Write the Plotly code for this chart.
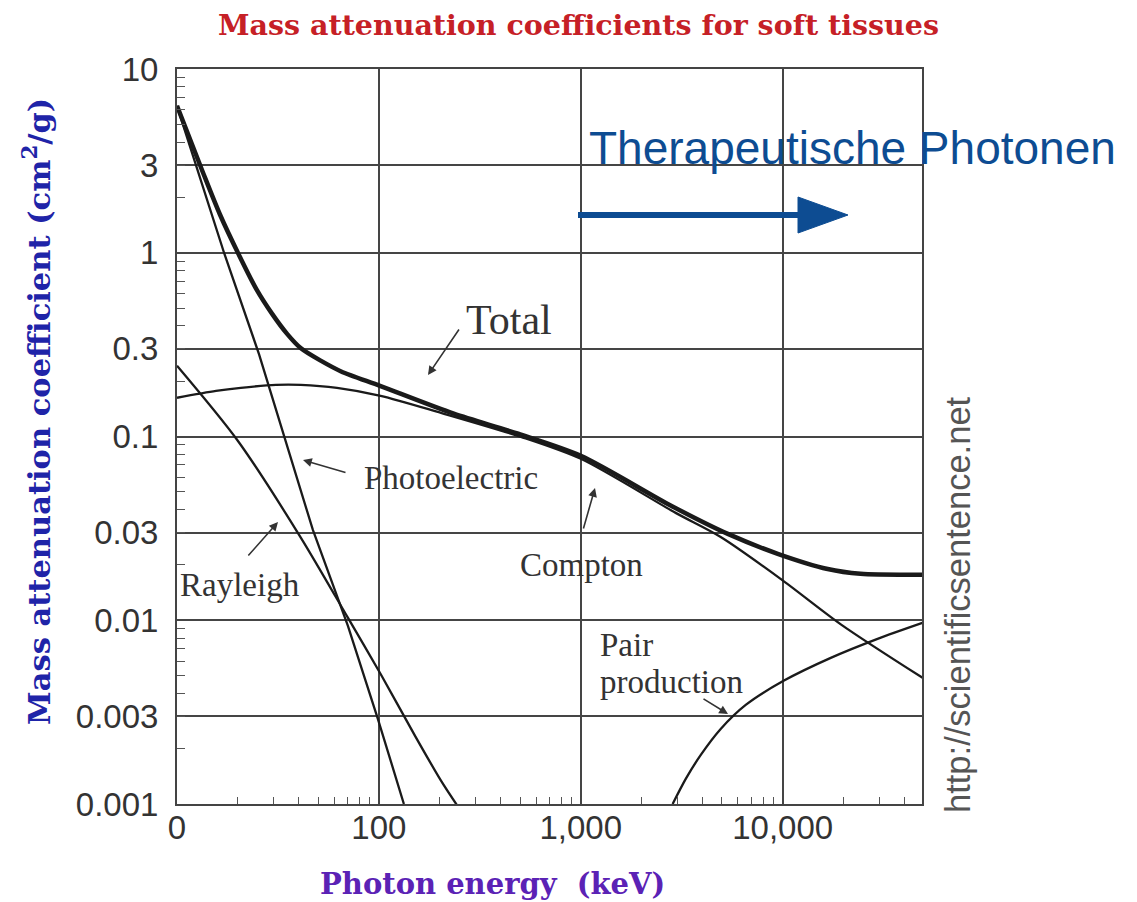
import plotly.graph_objects as go

# ---- data (energy in keV, mu/rho in cm^2/g) ----
total_E = [10, 13.4, 16.3, 20.3, 24.8, 29.6, 35.1, 41.1, 52, 65, 102, 235, 490, 1000, 2800, 5350, 9450, 16700, 24300, 49300]
total_mu = [6.3, 2.76, 1.62, 0.97, 0.63, 0.465, 0.362, 0.302, 0.257, 0.226, 0.188, 0.133, 0.1035, 0.0785, 0.042, 0.0295, 0.023, 0.019, 0.0179, 0.0177]

compton_E = [10, 15.6, 20.7, 30.9, 41, 62, 102, 203, 505, 1000, 2950, 4930, 9770, 19400, 49300]
compton_mu = [0.1625, 0.177, 0.184, 0.191, 0.191, 0.184, 0.1666, 0.1345, 0.0996, 0.0756, 0.0384, 0.0284, 0.0168, 0.0095, 0.00486]

photo_E = [10, 12.4, 17.1, 25.5, 33.9, 47.1, 70.3, 98.9, 133]
photo_mu = [6.3, 3.0, 1.0, 0.28, 0.10, 0.031, 0.0093, 0.0029, 0.001]

rayleigh_E = [10, 20.0, 41.1, 70.3, 102, 152, 203, 243]
rayleigh_mu = [0.2426, 0.0948, 0.0281, 0.0103, 0.0051, 0.00232, 0.00134, 0.00099]

pair_E = [2850, 3310, 3930, 4930, 6560, 10100, 17300, 29500, 49300]
pair_mu = [0.001, 0.00137, 0.00185, 0.00256, 0.00346, 0.00468, 0.00624, 0.00792, 0.00968]

x_tickvals = [10, 100, 1000, 10000]
x_ticktext = ["0", "100", "1,000", "10,000"]
y_tickvals = [10, 3, 1, 0.3, 0.1, 0.03, 0.01, 0.003, 0.001]
y_ticktext = ["10", "3", "1", "0.3", "0.1", "0.03", "0.01", "0.003", "0.001"]

# page body has an 8px margin: figure is drawn from screen (8, 8)
OFF = 8
W, H = 1137 - OFF, 902 - OFF
L, R, T, B = 177, 922, 69, 804  # plot area in screen pixels


def px(x):
    return (x - L) / (R - L)


def py(y):
    return (B - y) / (B - T)


fig = go.Figure()
fig.add_trace(go.Scatter(x=total_E, y=total_mu, mode="lines", line=dict(color="#1a1a1a", width=4.5, shape="spline", smoothing=0.8)))
fig.add_trace(go.Scatter(x=compton_E, y=compton_mu, mode="lines", line=dict(color="#1a1a1a", width=2.3, shape="spline", smoothing=0.8)))
fig.add_trace(go.Scatter(x=photo_E, y=photo_mu, mode="lines", line=dict(color="#1a1a1a", width=2.3)))
fig.add_trace(go.Scatter(x=rayleigh_E, y=rayleigh_mu, mode="lines", line=dict(color="#1a1a1a", width=2.3, shape="spline", smoothing=0.8)))
fig.add_trace(go.Scatter(x=pair_E, y=pair_mu, mode="lines", line=dict(color="#1a1a1a", width=2.3, shape="spline", smoothing=0.8)))

minor_vals = [m * 10 ** k for k in range(-3, 5) for m in range(2, 10)]

axis_common = dict(
    showline=True, linecolor="#444", linewidth=2, mirror=True,
    showgrid=True, gridcolor="#454545", gridwidth=1.9,
    ticks="", zeroline=False,
    tickfont=dict(family="Liberation Sans, Arial", size=33, color="#333"),
)

fig.update_xaxes(type="log", range=[1, 4.69], tickmode="array", tickvals=x_tickvals, ticktext=x_ticktext,
                 ticklabelstandoff=-7,
                 minor=dict(tickmode="array", tickvals=minor_vals, ticks="inside", ticklen=7, tickwidth=1.3,
                            tickcolor="#555", showgrid=False),
                 **axis_common)
fig.update_yaxes(type="log", range=[-3, 1], tickmode="array", tickvals=y_tickvals, ticktext=y_ticktext,
                 ticklabelstandoff=10,
                 minor=dict(tickmode="array", tickvals=minor_vals, ticks="inside", ticklen=8, tickwidth=1.3,
                            tickcolor="#555", showgrid=False),
                 **axis_common)

serif_bold = "DejaVu Serif"
label_font = dict(family="Liberation Serif, Times New Roman", size=33, color="#333")

annotations = [
    dict(text="<b>Mass attenuation coefficients for soft tissues</b>", x=px(578), y=py(25),
         font=dict(family=serif_bold, size=28.5, color="#c62026")),
    dict(text="<b>Mass attenuation coefficient (cm<sup>2</sup>/g)</b>", x=px(37), y=py(412), textangle=-90,
         font=dict(family=serif_bold, size=30.5, color="#1f24a8")),
    dict(text="<b>Photon energy  (keV)</b>", x=px(492), y=py(884),
         font=dict(family=serif_bold, size=29, color="#5b22b5")),
    dict(text="Therapeutische Photonen", x=px(587), y=py(148), xanchor="left",
         font=dict(family="Liberation Sans, Arial", size=46, color="#0d4c92")),
    dict(text="http://scientificsentence.net", x=px(958), y=py(605), textangle=-90,
         font=dict(family="Liberation Sans, Arial", size=34.5, color="#555")),
    dict(text="Total", x=px(509), y=py(320), font=dict(family="Liberation Serif, Times New Roman", size=42, color="#333")),
    dict(text="Photoelectric", x=px(451), y=py(478), font=label_font),
    dict(text="Rayleigh", x=px(240), y=py(585), font=label_font),
    dict(text="Compton", x=px(581), y=py(565), font=label_font),
    dict(text="Pair", x=px(598), y=py(645), xanchor="left", font=label_font),
    dict(text="production", x=px(598), y=py(682), xanchor="left", font=label_font),
]
for a in annotations:
    a.update(xref="paper", yref="paper", showarrow=False)
    a.setdefault("xanchor", "center")
    a.setdefault("yanchor", "middle")

# thin pointer arrows (head at x,y; tail offset ax, ay in pixels)
pointers = [
    ((428, 375), (32, -47)),
    ((303, 460), (44, 13)),
    ((278, 522), (-31, 35)),
    ((595, 488), (-12, 42)),
    ((728, 714), (-26, -16)),
]
for (hx, hy), (ax, ay) in pointers:
    annotations.append(dict(x=px(hx), y=py(hy), xref="paper", yref="paper", text="", showarrow=True,
                            ax=ax, ay=ay, arrowhead=2, arrowsize=1.1, arrowwidth=1.6, arrowcolor="#333"))

fig.update_layout(annotations=annotations)

# big blue arrow
fig.add_shape(type="line", xref="paper", yref="paper", x0=px(578), x1=px(805), y0=py(215), y1=py(215),
              line=dict(color="#0d4c92", width=6))
fig.add_shape(type="path", xref="paper", yref="paper",
              path=f"M {px(798)},{py(197)} L {px(848)},{py(215)} L {px(798)},{py(233)} Z",
              fillcolor="#0d4c92", line=dict(color="#0d4c92", width=1))

fig.update_layout(
    width=W, height=H,
    margin=dict(l=L - OFF, r=W - (R - OFF), t=T - OFF, b=H - (B - OFF)),
    paper_bgcolor="white", plot_bgcolor="white",
    showlegend=False,
)

fig.write_html("out.html")
